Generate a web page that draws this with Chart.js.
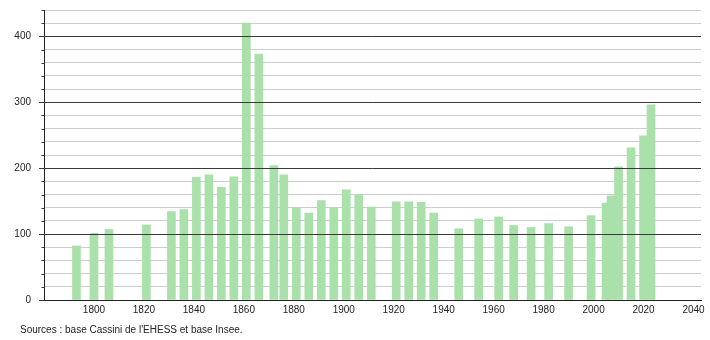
<!DOCTYPE html>
<html>
<head>
<meta charset="utf-8">
<script src="https://cdn.jsdelivr.net/npm/chart.js@4/dist/chart.umd.min.js"></script>
<style>
  html, body { margin: 0; padding: 0; background: #fff; }
  #wrap { position: relative; width: 710px; height: 340px; }
  #caption { position: absolute; left: 20px; top: 324px; font: 10px 'Liberation Sans', Arial, sans-serif; line-height: 12px; color: #222; white-space: nowrap; }
</style>
</head>
<body>
<div id="wrap">
  <canvas id="c" width="710" height="340"></canvas>
  <div id="caption">Sources : base Cassini de l'EHESS et base Insee.</div>
</div>
<script>
// Data
const years = [1793, 1800, 1806, 1821, 1831, 1836, 1841, 1846, 1851, 1856,
               1861, 1866, 1872, 1876, 1881, 1886, 1891, 1896, 1901, 1906,
               1911, 1921, 1926, 1931, 1936, 1946, 1954, 1962, 1968, 1975,
               1982, 1990, 1999, 2005, 2007, 2010, 2015, 2020, 2023];
const population = [82, 101, 107, 114, 134, 137, 186, 190, 171, 187,
                    420, 373, 204, 190, 140, 132, 151, 140, 167, 160,
                    141, 149, 149, 148, 132, 108, 123, 126, 113, 110,
                    116, 111, 128, 147, 158, 202, 231, 249, 296];
const xTickLabels = [1800, 1820, 1840, 1860, 1880, 1900, 1920, 1940, 1960, 1980, 2000, 2020, 2040];
const yMajorTicks = [0, 100, 200, 300, 400];
const sourceText = "Sources : base Cassini de l'EHESS et base Insee.";

document.getElementById('caption').textContent = sourceText;

Chart.defaults.font.family = "'Liberation Sans', Arial, sans-serif";
Chart.defaults.font.size = 10;
Chart.defaults.color = '#222';

const majorLines = {
  id: 'majorLines',
  afterDatasetsDraw(chart) {
    const ctx = chart.ctx, y = chart.scales.y, a = chart.chartArea;
    ctx.save();
    ctx.strokeStyle = '#3a3a3a';
    ctx.lineWidth = 1;
    yMajorTicks.forEach(v => {
      if (v === 0) return;
      const py = Math.round(y.getPixelForValue(v)) + 0.5;
      ctx.beginPath(); ctx.moveTo(a.left, py); ctx.lineTo(a.right, py); ctx.stroke();
    });
    // y-axis tick marks
    y.ticks.forEach(t => {
      const py = Math.round(y.getPixelForValue(t.value)) + 0.5;
      const len = (t.value % 100 === 0) ? 5 : 2.5;
      ctx.beginPath(); ctx.moveTo(a.left - len, py); ctx.lineTo(a.left, py); ctx.stroke();
    });
    ctx.restore();
  }
};

new Chart(document.getElementById('c'), {
  type: 'bar',
  data: {
    datasets: [{
      data: years.map((yr, i) => ({ x: yr, y: population[i] })),
      backgroundColor: 'rgb(170,224,170)',
      borderWidth: 0,
      barThickness: 8
    }]
  },
  options: {
    responsive: false,
    devicePixelRatio: 1,
    animation: false,
    layout: { padding: { left: 0, right: 9, top: 10, bottom: 0 } },
    plugins: { legend: { display: false }, tooltip: { enabled: false } },
    scales: {
      x: {
        type: 'linear',
        offset: false,
        min: 1780,
        max: 2043,
        grid: { display: false, drawTicks: false, offset: false },
        border: { display: true, color: '#222', width: 1 },
        ticks: { padding: 4, maxRotation: 0, autoSkip: false, callback: v => String(v) },
        afterBuildTicks: s => { s.ticks = xTickLabels.map(v => ({ value: v })); },
        afterFit: s => { s.height = 40; s.paddingLeft = 0; s.paddingRight = 0; }
      },
      y: {
        min: 0,
        max: 440,
        ticks: {
          stepSize: 20,
          autoSkip: false,
          padding: 13,
          callback: v => (v % 100 === 0 ? String(v) : '')
        },
        grid: {
          drawTicks: false,
          color: 'rgb(205,205,205)',
          lineWidth: 1
        },
        border: { display: true, color: '#222', width: 1 },
        afterFit: s => { s.width = 44; s.paddingTop = 0; s.paddingBottom = 0; }
      }
    }
  },
  plugins: [majorLines]
});
</script>
</body>
</html>
